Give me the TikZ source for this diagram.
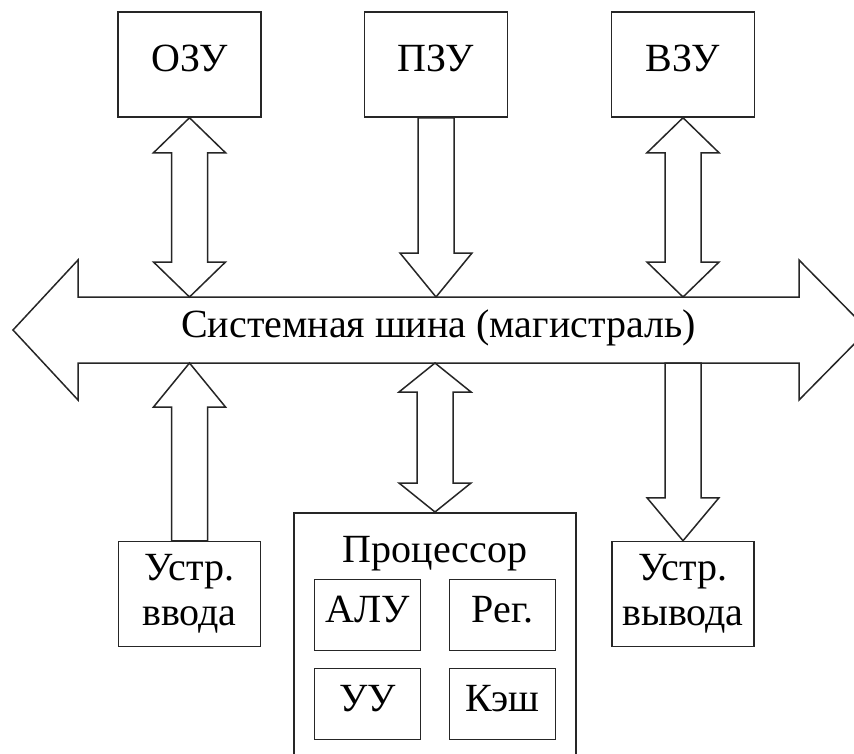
\documentclass[tikz,border=0pt]{standalone}
\usepackage{fontspec}
\setmainfont{Liberation Serif}
\usetikzlibrary{calc}

\tikzset{
  block/.style={draw=black!85, line width=1.5pt, fill=white, line join=miter},
  unit/.style={block, minimum width=143pt, minimum height=105pt, inner sep=0pt, text height=26pt, text depth=13pt},
  io/.style={block, minimum width=142pt, minimum height=105pt, inner sep=0pt, align=center},
  cell/.style={block, minimum width=106pt, minimum height=71pt, inner sep=0pt, text height=26pt, text depth=11pt},
  oneway/.style={to path={let \p1=(\tikztostart), \p2=(\tikztotarget), \n1={ifthenelse(\y2>\y1,1,-1)} in
    (\x1-18pt,\y1) -- (\x1-18pt,\y2-\n1*#1) -- (\x1-36pt,\y2-\n1*#1) -- (\x2,\y2)
    -- (\x1+36pt,\y2-\n1*#1) -- (\x1+18pt,\y2-\n1*#1) -- (\x1+18pt,\y1) -- cycle}},
  bothway/.style={to path={let \p1=(\tikztostart), \p2=(\tikztotarget), \n1={ifthenelse(\y2>\y1,1,-1)} in
    (\x1,\y1) -- (\x1+36pt,\y1+\n1*#1) -- (\x1+18pt,\y1+\n1*#1) -- (\x1+18pt,\y2-\n1*#1)
    -- (\x1+36pt,\y2-\n1*#1) -- (\x2,\y2) -- (\x1-36pt,\y2-\n1*#1) -- (\x1-18pt,\y2-\n1*#1)
    -- (\x1-18pt,\y1+\n1*#1) -- (\x1-36pt,\y1+\n1*#1) -- cycle}}
}

\begin{document}
\begin{tikzpicture}[x=1pt,y=-1pt,font=\fontsize{40pt}{45pt}\selectfont]
\path[use as bounding box, clip] (0,0) rectangle (854,753);
\fill[white] (0,0) rectangle (854,753);

% system bus
\draw[block] (13,330) -- (78,260) -- (78,297) -- (799,297) -- (799,260) -- (868,330)
  -- (799,400) -- (799,363) -- (78,363) -- (78,400) -- cycle;
\node[anchor=base] (bus) at (438.5,337) {Системная шина (магистраль)};
\coordinate (bustop) at (438.5,297);
\coordinate (busbot) at (438.5,363);

\node[unit] (ozu) at (189.5,64.5) {ОЗУ};
\node[unit] (pzu) at (436,64.5) {ПЗУ};
\node[unit] (vzu) at (683,64.5) {ВЗУ};

\node[io] (inp) at (189.5,594) {Устр.\\ввода};
\node[io] (outp) at (683,594) {Устр.\\вывода};

% processor
\node[block, minimum width=282pt, minimum height=260pt, anchor=north] (cpu) at (435,512) {};
\node[anchor=base] (cputitle) at (435,562) {Процессор};
\node[cell] (alu) at (367.5,615) {АЛУ};
\node[cell] (reg) at (502.5,615) {Рег.};
\node[cell] (cu) at (367.5,704) {УУ};
\node[cell] (cache) at (502.5,704) {Кэш};

\draw[block] (ozu.south) to[bothway=35pt] (ozu.south |- bustop);
\draw[block] (pzu.south) to[oneway=44pt] (pzu.south |- bustop);
\draw[block] (vzu.south) to[bothway=35pt] (vzu.south |- bustop);
\draw[block] (inp.north) to[oneway=44pt] (inp.north |- busbot);
\draw[block] (cpu.north) to[bothway=29pt] (cpu.north |- busbot);
\draw[block] (outp.north |- busbot) to[oneway=43pt] (outp.north);
\end{tikzpicture}
\end{document}
